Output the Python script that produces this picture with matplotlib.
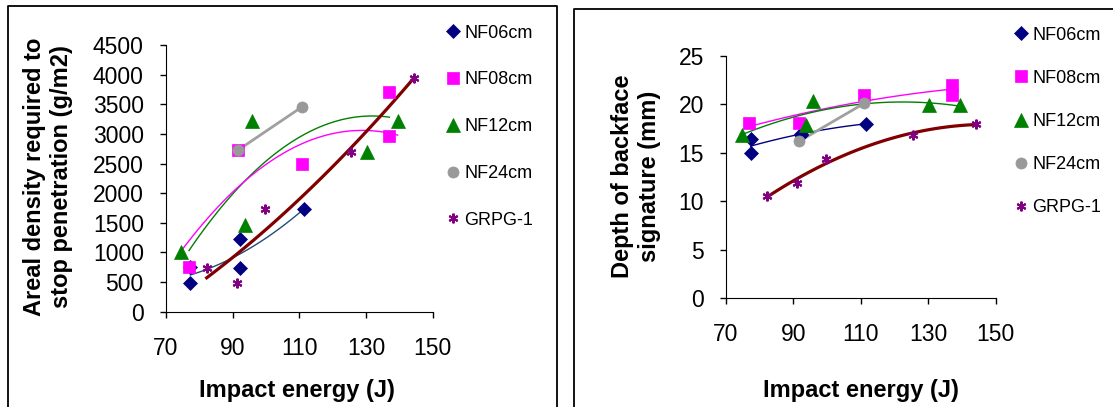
import numpy as np
import matplotlib
matplotlib.use('Agg')
import matplotlib.pyplot as plt
from matplotlib.lines import Line2D

plt.rcParams['font.family'] = ['Liberation Sans', 'DejaVu Sans']

# Impact energies (J) per series
nf06_x = [77.3, 77.3, 92.2, 92.2, 111.5]
nf08_x = [76.9, 91.7, 110.9, 137.0, 137.0]
nf12_x = [74.6, 93.7, 95.9, 130.2, 139.5]
nf24_x = [91.7, 110.9]
grpg_x = [82.2, 91.2, 99.6, 125.4, 144.3]

# Areal density required to stop penetration (g/m2)
nf06_ad = [490, 750, 1220, 730, 1740]
nf08_ad = [760, 2730, 2490, 3710, 2970]
nf12_ad = [1000, 1463, 3210, 2700, 3210]
nf24_ad = [2730, 3460]
grpg_ad = [743, 489, 1727, 2700, 3950]

# Depth of backface signature (mm)
nf06_bfs = [16.4, 15.0, 17.0, 16.9, 18.0]
nf08_bfs = [18.1, 18.1, 21.0, 22.0, 21.0]
nf12_bfs = [16.9, 17.9, 20.4, 19.95, 19.95]
nf24_bfs = [16.2, 20.1]
grpg_bfs = [10.55, 11.9, 14.4, 16.85, 18.0]

labels = ['NF06cm', 'NF08cm', 'NF12cm', 'NF24cm', 'GRPG-1']
markers = ['D', 's', '^', 'o', (6, 2, 0)]
msizes = [7, 8.5, 10, 8, 7]
mcolors = ['#000080', '#FF00FF', '#008000', '#999999', '#800080']

W, H = 1113, 407
fig = plt.figure(figsize=(W / 100, H / 100), dpi=100)


def fbox(l, b, r, t):
    return [l / W, 1 - b / H, (r - l) / W, (b - t) / H]


def trend(ax, x, y, deg, color, lw):
    c = np.polyfit(x, y, deg)
    xx = np.linspace(min(x), max(x), 100)
    ax.plot(xx, np.polyval(c, xx), color=color, lw=lw, zorder=2)


def make_panel(rect, ys, ymax, ystep, ylabel, ylab_pos, xlab_pos, tcols, leg):
    ax = fig.add_axes(fbox(*rect))
    xs = [nf06_x, nf08_x, nf12_x, nf24_x, grpg_x]
    for i, (x, y) in enumerate(zip(xs, ys)):
        ax.plot(x, y, ls='none', marker=markers[i], ms=msizes[i], color=mcolors[i],
                mec=mcolors[i], mew=1.5 if i == 4 else 0.5, label=labels[i], zorder=3)
    # trendlines (colours as in the original workbook)
    trend(ax, nf06_x, ys[0], 2, tcols[0], 1.0)
    trend(ax, nf08_x, ys[1], 2, tcols[1], 1.0)
    trend(ax, nf12_x, ys[2], 2, tcols[2], 1.0)
    trend(ax, nf24_x, ys[3], 1, '#A0A0A0', 2.0)
    trend(ax, grpg_x, ys[4], 2, '#800000', 2.3)

    ax.set_xlim(70, 150)
    ax.set_ylim(0, ymax)
    ax.set_xticks(range(70, 151, 20))
    ax.set_yticks(np.arange(0, ymax + 1, ystep))
    ax.spines[['top', 'right']].set_visible(False)
    ax.tick_params(direction='out', length=4, width=1, labelsize=16.5)
    ax.tick_params(axis='x', pad=14)
    ax.tick_params(axis='y', pad=12)

    ax.set_xlabel('Impact energy (J)', fontsize=17, fontweight='bold')
    ax.xaxis.set_label_coords(*xlab_pos)
    ax.xaxis.label.set_va('center')
    ax.set_ylabel(ylabel, fontsize=17, fontweight='bold')
    ax.yaxis.set_label_coords(*ylab_pos)
    ax.yaxis.label.set_va('center')

    fig.legend(handles=ax.get_legend_handles_labels()[0], labels=labels,
               loc='upper left', bbox_to_anchor=(leg[0] / W, 1 - leg[1] / H),
               frameon=False, fontsize=13, handlelength=0.8, handletextpad=0.2,
               labelspacing=leg[2], borderpad=0, borderaxespad=0)
    return ax


make_panel((166, 311.7, 432.7, 45),
           [nf06_ad, nf08_ad, nf12_ad, nf24_ad, grpg_ad], 4500, 500,
           'Areal density required to\nstop penetration (g/m2)',
           (-0.442, 0.507), (0.491, -0.297),
           ['#1F4E79', '#008000', '#FF00FF'], (446, 24.5, 1.65))

make_panel((726, 298.3, 995.7, 56),
           [nf06_bfs, nf08_bfs, nf12_bfs, nf24_bfs, grpg_bfs], 25, 5,
           'Depth of backface\nsignature (mm)',
           (-0.334, 0.505), (0.5, -0.382),
           ['#000080', '#FF00FF', '#008000'], (1014, 26.5, 1.45))

# frames around each chart
for xs, ys in [([8, 8, 556.7, 556.7], [H, 6, 6, H]),
               ([574.3, 574.3, W + 5], [H, 9.3, 9.3])]:
    fig.add_artist(Line2D([x / W for x in xs], [1 - y / H for y in ys],
                          color='black', lw=1.3))

fig.savefig('out.png', dpi=100)
